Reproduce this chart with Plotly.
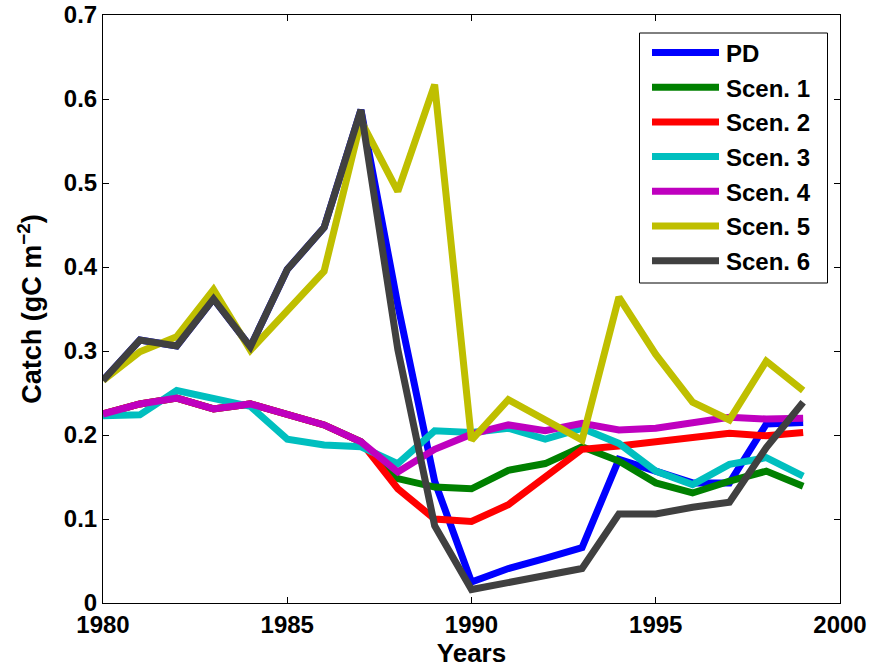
import plotly.graph_objects as go

years = list(range(1980, 2000))

pd_catch = [0.265, 0.313, 0.306, 0.362, 0.305, 0.397, 0.447, 0.587, 0.355, 0.145,
            0.025, 0.041, 0.053, 0.066, 0.171, 0.157, 0.143, 0.143, 0.213, 0.215]
scen1 = [0.225, 0.237, 0.244, 0.231, 0.237, 0.224, 0.212, 0.192, 0.148, 0.138,
         0.136, 0.158, 0.166, 0.186, 0.169, 0.143, 0.131, 0.145, 0.157, 0.139]
scen2 = [0.225, 0.237, 0.244, 0.231, 0.237, 0.224, 0.212, 0.192, 0.136, 0.100,
         0.097, 0.117, 0.150, 0.183, 0.187, 0.192, 0.196, 0.202, 0.199, 0.203]
scen3 = [0.223, 0.224, 0.253, 0.243, 0.234, 0.195, 0.188, 0.186, 0.166, 0.205,
         0.203, 0.208, 0.195, 0.208, 0.190, 0.157, 0.141, 0.165, 0.173, 0.151]
scen4 = [0.225, 0.237, 0.244, 0.231, 0.237, 0.224, 0.212, 0.192, 0.156, 0.183,
         0.201, 0.212, 0.205, 0.214, 0.206, 0.208, 0.215, 0.221, 0.219, 0.220]
scen5 = [0.265, 0.299, 0.317, 0.373, 0.301, 0.349, 0.395, 0.574, 0.490, 0.617,
         0.194, 0.242, 0.218, 0.194, 0.364, 0.296, 0.239, 0.218, 0.288, 0.253]
scen6 = [0.265, 0.313, 0.306, 0.362, 0.305, 0.397, 0.447, 0.587, 0.302, 0.092,
         0.016, 0.025, 0.033, 0.041, 0.106, 0.106, 0.114, 0.120, 0.185, 0.239]

series_names = ["PD", "Scen. 1", "Scen. 2", "Scen. 3", "Scen. 4", "Scen. 5", "Scen. 6"]
series_values = [pd_catch, scen1, scen2, scen3, scen4, scen5, scen6]
series_colors = ["#0000ff", "#008000", "#ff0000", "#00bfbf", "#bf00bf", "#bfbf00", "#404040"]

x_ticks = [1980, 1985, 1990, 1995, 2000]
y_ticks = [0, 0.1, 0.2, 0.3, 0.4, 0.5, 0.6, 0.7]
y_tick_text = ["0", "0.1", "0.2", "0.3", "0.4", "0.5", "0.6", "0.7"]

FONT = "Liberation Sans"
LINE_W = 7

fig = go.Figure()
for name, vals, col in zip(series_names, series_values, series_colors):
    fig.add_trace(go.Scatter(x=years, y=vals, mode="lines", name=name,
                             line=dict(color=col, width=LINE_W),
                             showlegend=False))

# Boxed legend drawn in paper coordinates (plot area spans 737 x 588 px)
W, H = 737.0, 588.0
X0, Y0 = 103.0, 15.0


def px(xp):
    return (xp - X0) / W


def py(yp):
    return 1 - (yp - Y0) / H


shapes = [dict(type="rect", xref="paper", yref="paper",
               x0=px(639.5), x1=px(827.5), y0=py(283), y1=py(33),
               line=dict(color="black", width=1), fillcolor="white", layer="above")]
annotations = []
row0, step = 52.5, 34.7
for i, (name, col) in enumerate(zip(series_names, series_colors)):
    yrow = row0 + i * step
    shapes.append(dict(type="line", xref="paper", yref="paper",
                       x0=px(652), x1=px(719), y0=py(yrow), y1=py(yrow),
                       line=dict(color=col, width=LINE_W), layer="above"))
    annotations.append(dict(xref="paper", yref="paper", x=px(724), y=py(yrow + 1),
                            xanchor="left", yanchor="middle", showarrow=False,
                            text=name,
                            font=dict(family=FONT, size=24, color="black", weight="bold")))

axis_common = dict(showline=True, linecolor="black", linewidth=1, mirror="allticks",
                   ticks="inside", ticklen=6, tickcolor="black", showgrid=False,
                   zeroline=False, automargin=False,
                   tickfont=dict(family=FONT, size=24, color="black", weight="bold"))

fig.update_layout(
    width=869, height=668,
    margin=dict(l=103, r=29, t=15, b=65),
    paper_bgcolor="white", plot_bgcolor="white",
    showlegend=False,
    shapes=shapes, annotations=annotations,
    xaxis=dict(range=[1980, 2000], tickvals=x_ticks,
               title=dict(text="Years", standoff=4,
                          font=dict(family=FONT, size=26, color="black", weight="bold")),
               **axis_common),
    yaxis=dict(range=[0, 0.7], tickvals=y_ticks, ticktext=y_tick_text,
               title=dict(text="Catch (gC m<sup>−2</sup>)", standoff=14,
                          font=dict(family=FONT, size=27, color="black", weight="bold")),
               **axis_common),
)

fig.write_html("out.html")
